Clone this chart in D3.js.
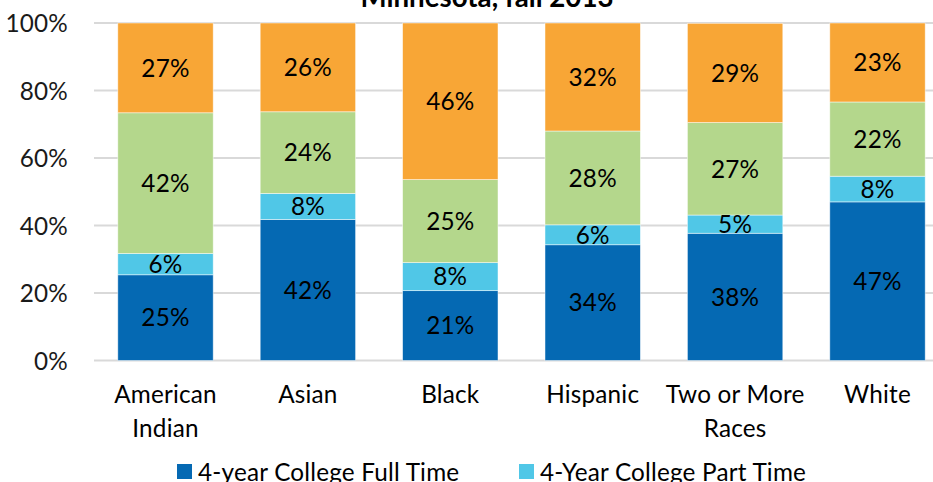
<!DOCTYPE html>
<html><head><meta charset="utf-8">
<script src="https://cdn.jsdelivr.net/npm/d3@7"></script>
<style>
html,body{margin:0;padding:0;background:#fff;overflow:hidden;}
svg{display:block;}
text{font-family:Lato, "Open Sans", sans-serif;}
</style></head>
<body>
<svg id="chart" width="933" height="482"></svg>
<script>
const categories = [["American","Indian"],["Asian"],["Black"],["Hispanic"],["Two or More","Races"],["White"]];
const fullTime4  = [25.4, 41.8, 20.7, 34.3, 37.7, 47.0];
const partTime4  = [6.3, 7.7, 8.3, 5.9, 5.4, 7.6];
const twoYear    = [41.7, 24.2, 24.6, 27.8, 27.4, 22.0];
const notEnrolled= [26.6, 26.3, 46.4, 32.0, 29.4, 23.4];
const seriesNames = ["4-year College Full Time","4-Year College Part Time","2-Year College","Not Enrolled"];
const seriesColors = ["#0569B3","#50C7E7","#B4D78C","#F8A636"];
const yTicks = [0,20,40,60,80,100];
const title = "Minnesota, fall 2013";

const FS = 24.3, LS = "0.2px";
const svg = d3.select("#chart");
const keys = ["s0","s1","s2","s3"];
const rows = categories.map((c,i)=>({cat:c.join(" "), lines:c, s0:fullTime4[i], s1:partTime4[i], s2:twoYear[i], s3:notEnrolled[i]}));
const stack = d3.stack().keys(keys)(rows);

const x = d3.scaleBand().domain(rows.map(r=>r.cat)).range([94.3, 948.7]).paddingInner(0.33).paddingOuter(0.165);
const y = d3.scaleLinear().domain([0,100]).range([360.5, 23]);

// gridlines
svg.append("g").selectAll("line").data(yTicks).join("line")
  .attr("x1",94).attr("x2",933).attr("y1",d=>y(d)).attr("y2",d=>y(d))
  .attr("stroke","#D9D9D9").attr("stroke-width",2);

// y axis labels
const yAxis = d3.axisLeft(y).tickValues(yTicks).tickFormat(d=>d+"%").tickSize(0).tickPadding(0);
const yg = svg.append("g").attr("transform","translate(68,0)").call(yAxis);
yg.select(".domain").remove();
yg.selectAll("text").attr("font-size",FS).attr("letter-spacing",LS).attr("fill","#1a1a1a").attr("font-family","Lato, sans-serif").attr("dy","0.35em");

// bars
const g = svg.append("g");
stack.forEach((s,si)=>{
  const sg = g.append("g").attr("fill",seriesColors[si]);
  sg.selectAll("rect").data(s).join("rect")
    .attr("x",d=>x(d.data.cat)).attr("width",x.bandwidth())
    .attr("y",d=>y(d[1])).attr("height",d=>y(d[0])-y(d[1]))
    .attr("stroke","#ffffff").attr("stroke-width",0.8).attr("stroke-opacity",0.6);
});
// labels
stack.forEach((s,si)=>{
  g.append("g").selectAll("text").data(s).join("text")
    .attr("x",d=>x(d.data.cat)+x.bandwidth()/2)
    .attr("y",d=>(y(d[0])+y(d[1]))/2)
    .attr("dy","0.36em").attr("text-anchor","middle")
    .attr("font-size",FS).attr("letter-spacing",LS).attr("fill","#000")
    .text(d=>d3.format(".0f")(d[1]-d[0])+"%");
});

// category labels
const xg = svg.append("g");
rows.forEach(r=>{
  const t = xg.append("text").attr("text-anchor","middle").attr("font-size",FS).attr("letter-spacing",LS).attr("fill","#000")
    .attr("x",x(r.cat)+x.bandwidth()/2).attr("y",403);
  r.lines.forEach((l,i)=>t.append("tspan").attr("x",x(r.cat)+x.bandwidth()/2).attr("dy",i?34:0).text(l));
});

// title
svg.append("text").attr("x",487).attr("y",7).attr("text-anchor","middle")
  .attr("font-size",27.7).attr("font-weight","bold").attr("fill","#000").text(title);

// legend
const legendPos = [[177,481],[519,481],[177,516],[519,516]];
seriesNames.forEach((n,i)=>{
  const [lx,ly] = legendPos[i];
  svg.append("rect").attr("x",lx).attr("y",ly-17).attr("width",15).attr("height",15).attr("fill",seriesColors[i]);
  svg.append("text").attr("x",lx+21).attr("y",ly).attr("font-size",FS).attr("letter-spacing",LS).attr("fill","#000").text(n);
});
</script>
</body></html>
